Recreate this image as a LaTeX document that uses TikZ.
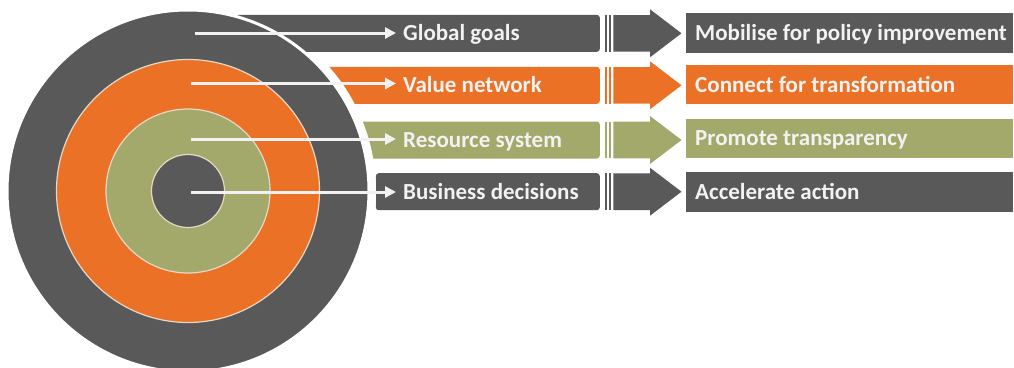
\documentclass[tikz,border=0pt]{standalone}
\usepackage{fontspec}
\setmainfont{Carlito}
\usetikzlibrary{arrows.meta}
\definecolor{dgray}{HTML}{595959}
\definecolor{orng}{HTML}{EA7125}
\definecolor{olive}{HTML}{A3A86B}
\definecolor{txt}{HTML}{F2F2F2}
\definecolor{ringline}{HTML}{E6D8C4}
\newcommand{\rtext}[1]{\makebox[308.5pt][l]{#1}}
\begin{document}
\begin{tikzpicture}[x=1pt,y=-1pt,
  lbar/.style={rectangle, rounded corners=3pt, minimum height=37pt, inner sep=0pt, anchor=east},
  rbox/.style={rectangle, minimum height=39.5pt, minimum width=327.5pt, anchor=west,
     inner xsep=9.5pt, inner ysep=0pt,
     text height=15pt, text depth=0pt, font=\fontsize{23}{26}\selectfont\bfseries, text=txt},
  ltxt/.style={inner sep=0pt, anchor=west, text height=15pt, text depth=0pt,
     font=\fontsize{23}{26}\selectfont\bfseries, text=txt},
  wline/.style={draw=txt, line width=3pt, -{Triangle[length=11pt,width=11pt]}, shorten >=7pt},
  ring/.style={draw=ringline, line width=1.2pt}]
\useasboundingbox (0,0) rectangle (1014,367);
% bars behind the target (rows 2-4)
\node[lbar, fill=orng,  minimum width=290pt] (b2) at (600,85.3) {};
\node[lbar, fill=olive, minimum width=255pt] (b3) at (600,140) {};
\node[lbar, fill=dgray, minimum width=224pt] (b4) at (600,191.7) {};
\coordinate (c) at (188,191);
\fill[white] (c) circle[radius=188];
\node[lbar, fill=dgray, minimum width=364pt] (b1) at (600,33.3) {};
% target
\filldraw[fill=dgray, draw=white, line width=3pt] (c) circle[radius=181];
\filldraw[fill=orng, ring] (c) circle[radius=131.5];
\filldraw[fill=olive, ring] (c) circle[radius=82];
\filldraw[fill=dgray, ring] (c) circle[radius=36.5];
% striped arrows
\foreach \cy/\col in {33.3/dgray, 85.3/orng, 140/olive, 191.7/dgray}{
  \fill[\col] (605,\cy-18.3) rectangle (607.3,\cy+18.3);
  \fill[\col] (609.3,\cy-18.3) rectangle (611,\cy+18.3);
  \fill[\col] (613.3,\cy-18.3) -- (650,\cy-18.3) -- (650,\cy-24) -- (681.5,\cy)
     -- (650,\cy+24) -- (650,\cy+18.3) -- (613.3,\cy+18.3) -- cycle;
}
% left labels
\node[ltxt] (t1) at (403,33.3) {Global goals};
\node[ltxt] (t2) at (403,85.3) {Value network};
\node[ltxt] (t3) at (403,140) {Resource system};
\node[ltxt] (t4) at (403,191.7) {Business decisions};
% right boxes
\node[rbox, fill=dgray] (r1) at (685.5,32.8) {\rtext{Mobilise for policy improvement}};
\node[rbox, fill=orng]  (r2) at (685.5,84.5) {\rtext{Connect for transformation}};
\node[rbox, fill=olive] (r3) at (685.5,138.4) {\rtext{Promote transparency}};
\node[rbox, fill=dgray] (r4) at (685.5,191.9) {\rtext{Accelerate action}};
% white arrows
\coordinate (s1) at (195,33);
\coordinate (s2) at (191,83.5);
\coordinate (s3) at (191,139);
\coordinate (s4) at (191,192);
\draw[wline] (s1) -- (s1 -| t1.west);
\draw[wline] (s2) -- (s2 -| t2.west);
\draw[wline] (s3) -- (s3 -| t3.west);
\draw[wline] (s4) -- (s4 -| t4.west);
\end{tikzpicture}
\end{document}
